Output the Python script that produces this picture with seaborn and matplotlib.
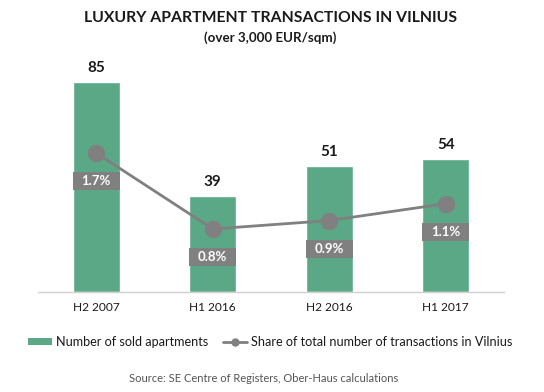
import matplotlib
matplotlib.use("Agg")
import matplotlib.pyplot as plt
import seaborn as sns
import pandas as pd
from matplotlib.patches import Patch, Rectangle
from matplotlib.lines import Line2D

periods = ["H2 2007", "H1 2016", "H2 2016", "H1 2017"]
sold = [85, 39, 51, 54]
share = [1.7, 0.8, 0.9, 1.1]
share_labels = ["1.7%", "0.8%", "0.9%", "1.1%"]

GREEN = "#5aa886"
GREY = "#808080"
TEXT = "#1a1a1a"

sns.set_theme(style="white")
plt.rcParams["font.family"] = ["Lato", "DejaVu Sans"]

df = pd.DataFrame({"period": periods, "sold": sold, "share": share})

fig = plt.figure(figsize=(5.44, 3.92), dpi=100)
W, H = 544, 392
left, right = 38 / W, 504 / W
bottom, top = 1 - 292 / H, 1 - 62 / H
ax = fig.add_axes([left, bottom, right - left, top - bottom])

sns.barplot(data=df, x="period", y="sold", color=GREEN, saturation=1,
            width=0.40, ax=ax)
ax.set_xlim(-0.5, 3.5)
ax.set_ylim(0, 230 / 2.47)
for i, v in enumerate(sold):
    ax.annotate(str(v), (i, v), xytext=(0, 5), textcoords="offset points",
                ha="center", va="bottom", fontsize=11, fontweight="bold",
                color=TEXT)

ax2 = ax.twinx()
sns.pointplot(data=df, x="period", y="share", color=GREY, markers="o",
              markersize=11, linewidth=2, ax=ax2, zorder=3)
ax2.set_xlim(-0.5, 3.5)
PXU = 84.4
lo = (296.5 - 292) / PXU
ax2.set_ylim(lo, lo + 230 / PXU)
for i, (v, lab) in enumerate(zip(share, share_labels)):
    yc = v - 28 / PXU
    hgt = 18 / PXU
    ax2.add_patch(Rectangle((i - 0.2, yc - hgt / 2), 0.4, hgt,
                            facecolor=GREY, edgecolor="none", zorder=4))
    ax2.text(i, yc, lab, ha="center", va="center", fontsize=9.5,
             fontweight="bold", color="white", zorder=5)

for a in (ax, ax2):
    a.set_xlabel("")
    a.set_ylabel("")
    a.set_yticks([])
    for s in ("top", "left", "right"):
        a.spines[s].set_visible(False)
ax2.spines["bottom"].set_visible(False)
ax.spines["bottom"].set_color("#d0d0d0")
ax.spines["bottom"].set_linewidth(1)

ax.set_xticks(range(len(periods)))
ax.set_xticklabels(periods, fontsize=8.6, color=TEXT)
ax.tick_params(axis="x", which="major", length=0, pad=7)
ax.set_xticks([-0.5, 0.5, 1.5, 2.5, 3.5], minor=True)
ax.tick_params(axis="x", which="minor", length=4, color="#d0d0d0", width=1)

fig.text(271 / W, 1 - 18 / H, "LUXURY APARTMENT TRANSACTIONS IN VILNIUS",
         ha="center", va="center", fontsize=11.3, fontweight="bold", color=TEXT)
fig.text(270 / W, 1 - 38 / H, "(over 3,000 EUR/sqm)",
         ha="center", va="center", fontsize=9.6, fontweight="bold", color=TEXT)

handles = [Patch(facecolor=GREEN, edgecolor="none"),
           Line2D([0], [0], color=GREY, lw=2, marker="o", markersize=5)]
fig.legend(handles, ["Number of sold apartments",
                     "Share of total number of transactions in Vilnius"],
           loc="center", bbox_to_anchor=(270 / W, 1 - 342 / H), ncol=2,
           frameon=False, fontsize=9.1, handlelength=1.9, handleheight=0.45,
           handletextpad=0.3, columnspacing=1.2, labelcolor=TEXT,
           borderpad=0, borderaxespad=0)

fig.text(264 / W, 1 - 378 / H, "Source: SE Centre of Registers, Ober-Haus calculations",
         ha="center", va="center", fontsize=8, color="#555555")

fig.savefig("out.png", dpi=100)
